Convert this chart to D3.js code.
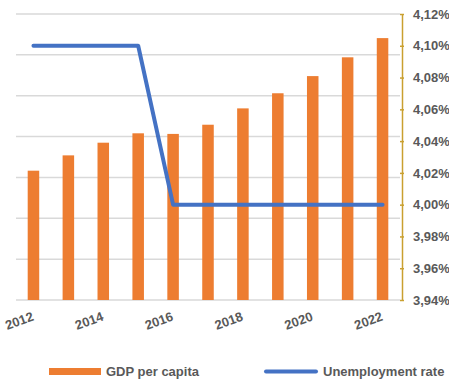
<!DOCTYPE html>
<html><head><meta charset="utf-8">
<script src="https://cdn.jsdelivr.net/npm/d3@7"></script>
<style>body{margin:0;background:#fff}svg{display:block;font-family:"Liberation Sans",Arial,sans-serif}</style>
</head><body>
<svg id="c" width="449" height="383"></svg>
<script>
const years = [2012,2013,2014,2015,2016,2017,2018,2019,2020,2021,2022];
const gdpPerCapita = [31650,35400,38500,40800,40650,42900,46900,50600,54800,59400,64100];
const unemploymentRate = [4.10,4.10,4.10,4.10,4.00,4.00,4.00,4.00,4.00,4.00,4.00];
const rightTicks = [3.94,3.96,3.98,4.00,4.02,4.04,4.06,4.08,4.10,4.12];
const gdpTicks = [0,10000,20000,30000,40000,50000,60000,70000];
const xTickLabels = [2012,2014,2016,2018,2020,2022];
const seriesNames = ["GDP per capita","Unemployment rate"];

const svg = d3.select("#c");
const L=16,R=400,T=14,B=300;
const x = d3.scaleBand().domain(years).range([L,R]).paddingInner(0.67).paddingOuter(0.335);
const yL = d3.scaleLinear().domain([0,70000]).range([B,T]);
const yR = d3.scaleLinear().domain([3.94,4.12]).range([B,T]);
const cx = d => x(d)+x.bandwidth()/2;

// gridlines
svg.append("g").selectAll("line").data(gdpTicks).join("line")
  .attr("x1",L).attr("x2",R).attr("y1",d=>yL(d)).attr("y2",d=>yL(d))
  .attr("stroke","#d9d9d9").attr("stroke-width",1.5);

// bars
svg.append("g").selectAll("rect").data(years).join("rect")
  .attr("x",d=>x(d)).attr("width",x.bandwidth())
  .attr("y",(d,i)=>yL(gdpPerCapita[i])).attr("height",(d,i)=>B-yL(gdpPerCapita[i]))
  .attr("fill","#ED7D31");

// line
const line = d3.line().x((d,i)=>cx(years[i])).y(d=>yR(d));
svg.append("path").datum(unemploymentRate).attr("d",line)
  .attr("fill","none").attr("stroke","#4472C4").attr("stroke-width",4)
  .attr("stroke-linecap","round").attr("stroke-linejoin","round");

// right axis
const ra = svg.append("g").attr("transform",`translate(402,0)`)
  .call(d3.axisRight(yR).tickValues(rightTicks).tickSizeInner(2).tickSizeOuter(0)
    .tickFormat(d=>d3.format(".2f")(d).replace(".",",")+"%"));
ra.select(".domain").attr("stroke","#C9A030").attr("stroke-width",1.5);
ra.selectAll(".tick line").attr("stroke","#C9A030").attr("stroke-width",1.5).attr("x1",-2).attr("x2",2);
ra.selectAll(".tick text").attr("x",11).attr("fill","#595959")
  .style("font-size","13px").style("font-weight","bold").style("font-family","Liberation Sans, Arial, sans-serif");

// x labels
svg.append("g").selectAll("text").data(xTickLabels).join("text")
  .attr("transform",d=>`translate(${cx(d)+1},320) rotate(-20)`)
  .attr("text-anchor","end").attr("fill","#595959")
  .style("font-size","13px").style("font-weight","bold").text(d=>d);

// legend
const lg = svg.append("g");
lg.append("rect").attr("x",49).attr("y",368).attr("width",52).attr("height",7).attr("fill","#ED7D31");
lg.append("text").attr("x",106).attr("y",376).attr("fill","#595959")
  .style("font-size","13px").style("font-weight","bold").text(seriesNames[0]);
lg.append("line").attr("x1",266).attr("x2",316).attr("y1",371.5).attr("y2",371.5)
  .attr("stroke","#4472C4").attr("stroke-width",4).attr("stroke-linecap","round");
lg.append("text").attr("x",323).attr("y",376).attr("fill","#595959")
  .style("font-size","13px").style("font-weight","bold").text(seriesNames[1]);
</script>
</body></html>
